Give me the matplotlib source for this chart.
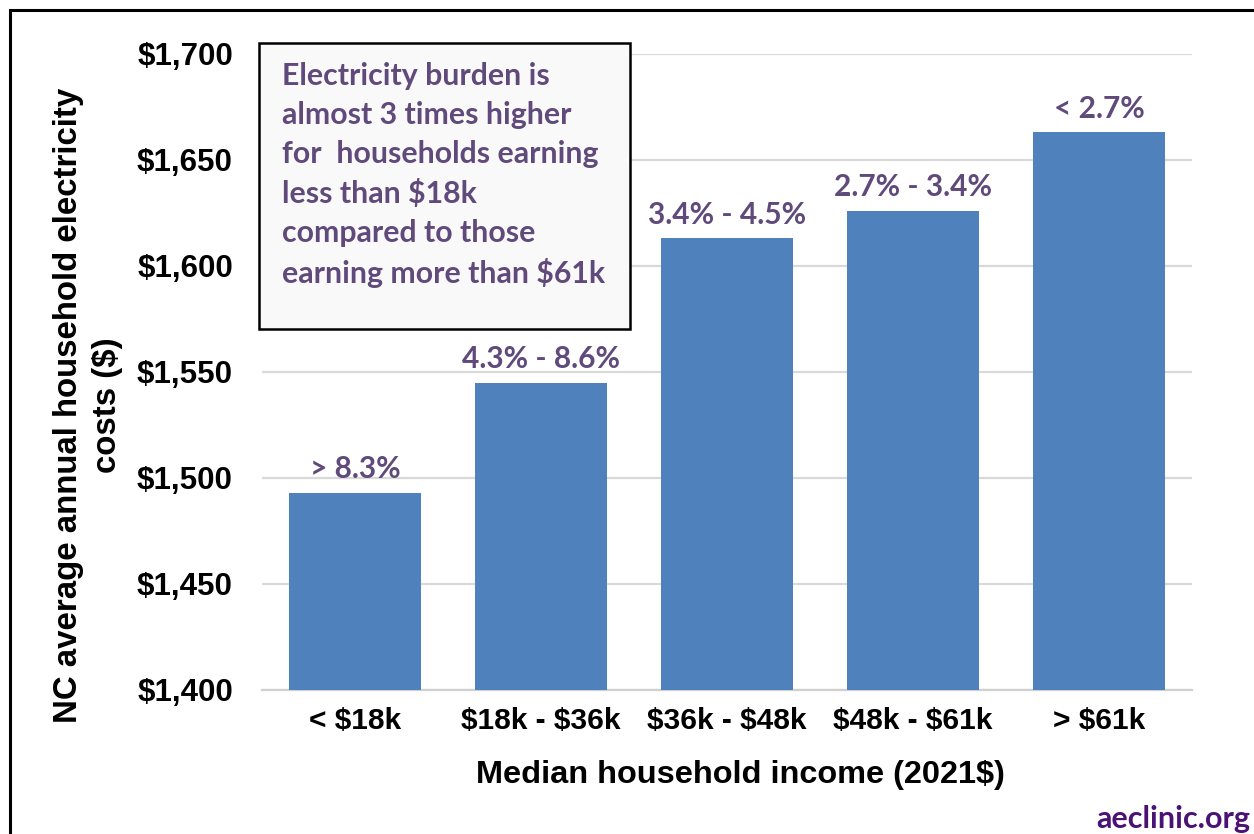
import matplotlib.pyplot as plt
from matplotlib.patches import Rectangle

# income groups and average annual electricity costs
income_groups = ['< $18k', '$18k - $36k', '$36k - $48k', '$48k - $61k', '> $61k']
avg_cost = [1493, 1545, 1613, 1626, 1663]
burden_labels = ['> 8.3%', '4.3% - 8.6%', '3.4% - 4.5%', '2.7% - 3.4%', '< 2.7%']
y_ticks = [1400, 1450, 1500, 1550, 1600, 1650, 1700]

note = ('Electricity burden is\n'
        'almost 3 times higher\n'
        'for  households earning\n'
        'less than $18k\n'
        'compared to those\n'
        'earning more than $61k')

plt.rcParams['text.parse_math'] = False

bar_color = '#4F81BD'
purple = '#604A7B'
W, H = 1254, 834

fig = plt.figure(figsize=(W / 100, H / 100), dpi=100)
fig.patch.set_facecolor('white')

# outer frame of the chart (runs off right/bottom edge)
fig.patches.append(Rectangle((10 / W, -0.05), 1.1, 1 - 10 / H + 0.05,
                             transform=fig.transFigure, fill=False,
                             edgecolor='black', linewidth=2.2))

ax = fig.add_axes([262 / W, 1 - 690 / H, (1192 - 262) / W, (690 - 54) / H])
x = range(len(income_groups))
bars = ax.bar(x, avg_cost, width=0.715, color=bar_color, zorder=3)

ax.set_ylim(1400, 1700)
ax.set_xlim(-0.5, len(income_groups) - 0.5)
ax.set_yticks(y_ticks)
ax.set_yticklabels(['${:,}'.format(v) for v in y_ticks])
ax.set_xticks(list(x))
ax.set_xticklabels(income_groups)
ax.grid(axis='y', color='#D9D9D9', linewidth=1.6, zorder=0)
for s in ['top', 'right', 'left']:
    ax.spines[s].set_visible(False)
ax.spines['bottom'].set_color('#D0D0D0')
ax.spines['bottom'].set_linewidth(1.6)
ax.tick_params(axis='both', length=0)
ax.tick_params(axis='y', pad=21, labelsize=22.5)
ax.tick_params(axis='x', pad=12, labelsize=21.5)
for lab in ax.get_xticklabels() + ax.get_yticklabels():
    lab.set_fontfamily('Liberation Sans')
    lab.set_fontweight('bold')

for b, lab in zip(bars, burden_labels):
    ax.annotate(lab, (b.get_x() + b.get_width() / 2, b.get_height()),
                xytext=(0, 7), textcoords='offset points', ha='center', va='bottom',
                fontsize=21.5, fontfamily='Lato', fontweight='bold', color=purple)

fig.text(88 / W, 1 - 405 / H, 'NC average annual household electricity\ncosts ($)',
         rotation=90, ha='center', va='center', multialignment='center',
         fontsize=23.8, fontfamily='Liberation Sans', fontweight='bold', linespacing=1.3)
fig.text(740 / W, 1 - 775 / H, 'Median household income (2021$)',
         ha='center', va='center', fontsize=23.4, fontfamily='Liberation Sans', fontweight='bold')

# annotation box
fig.patches.append(Rectangle((259 / W, 1 - 329 / H), (630 - 259) / W, (329 - 43) / H,
                             transform=fig.transFigure, facecolor='#F9F9F9',
                             edgecolor='black', linewidth=1.8, zorder=5))
fig.text(282 / W, 1 - 62 / H, note, ha='left', va='top', fontsize=21.8,
         fontfamily='Lato', fontweight='bold', color=purple, linespacing=1.47, zorder=6)

fig.text(1250 / W, 1 - 819 / H, 'aeclinic.org', ha='right', va='center', fontsize=22,
         fontfamily='Lato', fontweight='bold', color='#4B1276')

fig.savefig('out.png', dpi=100)
